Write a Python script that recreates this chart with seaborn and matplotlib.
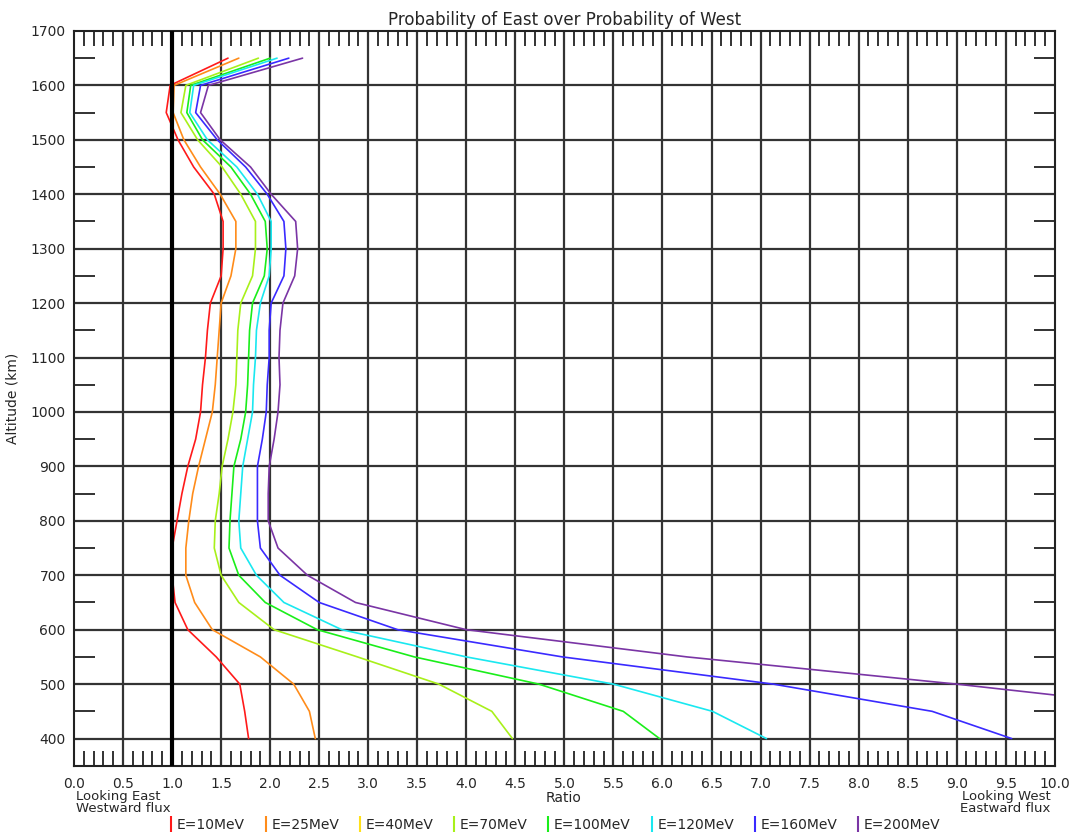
"""
Altitude profile of the East/West probability ratio for several proton energies.
"""
import numpy as np
import pandas as pd
import matplotlib
matplotlib.use('Agg')
import matplotlib.pyplot as plt
from matplotlib.lines import Line2D
from matplotlib.ticker import MultipleLocator, FormatStrFormatter
import seaborn as sns

# Altitude grid (km), shared by every energy curve
altitude = [400, 450, 500, 550, 600, 650, 700, 750, 800, 850, 900, 950, 1000,
            1050, 1100, 1150, 1200, 1250, 1300, 1350, 1400, 1450, 1500, 1550,
            1600, 1650]

# Ratio, one list per energy
ratio_10 = [1.78, 1.74, 1.69, 1.45, 1.16, 1.03, 1.00, 1.00, 1.05, 1.10, 1.16,
            1.24, 1.29, 1.31, 1.34, 1.36, 1.39, 1.50, 1.52, 1.52, 1.43, 1.22,
            1.06, 0.94, 0.98, 1.57]
ratio_25 = [2.46, 2.40, 2.24, 1.90, 1.41, 1.23, 1.14, 1.14, 1.17, 1.21, 1.27,
            1.34, 1.41, 1.44, 1.46, 1.48, 1.50, 1.60, 1.65, 1.65, 1.49, 1.29,
            1.12, 1.01, 1.02, 1.68]
ratio_70 = [4.47, 4.26, 3.72, 2.89, 2.04, 1.68, 1.50, 1.43, 1.44, 1.48, 1.51,
            1.57, 1.62, 1.65, 1.66, 1.67, 1.70, 1.82, 1.85, 1.85, 1.70, 1.51,
            1.26, 1.09, 1.14, 1.88]
ratio_100 = [5.97, 5.60, 4.74, 3.47, 2.48, 1.95, 1.68, 1.58, 1.59, 1.61, 1.63,
             1.70, 1.75, 1.77, 1.78, 1.79, 1.82, 1.94, 1.97, 1.95, 1.80, 1.60,
             1.31, 1.15, 1.19, 2.00]
ratio_120 = [7.06, 6.51, 5.50, 4.00, 2.73, 2.14, 1.86, 1.70, 1.68, 1.70, 1.72,
             1.77, 1.82, 1.83, 1.85, 1.86, 1.90, 1.99, 2.01, 2.01, 1.87, 1.66,
             1.36, 1.18, 1.22, 2.07]
ratio_160 = [9.56, 8.75, 7.13, 4.98, 3.30, 2.50, 2.10, 1.90, 1.87, 1.87, 1.87,
             1.92, 1.96, 1.97, 1.99, 1.99, 2.01, 2.14, 2.16, 2.14, 1.97, 1.75,
             1.46, 1.24, 1.29, 2.19]
ratio_200 = [13.0, 11.5, 9.00, 6.25, 4.00, 2.87, 2.38, 2.08, 1.98, 1.98, 1.99,
             2.04, 2.08, 2.10, 2.09, 2.10, 2.13, 2.25, 2.28, 2.26, 2.01, 1.80,
             1.49, 1.29, 1.37, 2.33]

# Legend entries (the 40 MeV curve has no data in the picture)
energies = ['E=10MeV', 'E=25MeV', 'E=40MeV', 'E=70MeV', 'E=100MeV',
            'E=120MeV', 'E=160MeV', 'E=200MeV']
colors = ['#ff1a1a', '#ff8c1a', '#ffe01a', '#a8f01a', '#1aee1a',
          '#1ae8f0', '#3a2aff', '#7a35a5']

curves = {
    'E=10MeV': ratio_10,
    'E=25MeV': ratio_25,
    'E=70MeV': ratio_70,
    'E=100MeV': ratio_100,
    'E=120MeV': ratio_120,
    'E=160MeV': ratio_160,
    'E=200MeV': ratio_200,
}

# Build long-form table for seaborn
rows = []
for name, vals in curves.items():
    for a, r in zip(altitude, vals):
        rows.append({'energy': name, 'alt': a, 'ratio': r})
df = pd.DataFrame(rows)
palette = dict(zip(energies, colors))

sns.set_style('white')
plt.rcParams['font.family'] = ['DejaVu Sans']

fig = plt.figure(figsize=(10.73, 8.36), dpi=100)
ax = fig.add_axes([0.069, 0.084, 0.914, 0.879])

# Grid and the reference line at ratio = 1
for xv in np.arange(0.5, 10.0, 0.5):
    ax.axvline(xv, color='#333333', lw=1.6, zorder=1)
for yv in range(400, 1700, 100):
    ax.axhline(yv, color='#333333', lw=1.6, zorder=1)
ax.axvline(1.0, color='black', lw=3, zorder=3)

sns.lineplot(data=df, x='ratio', y='alt', hue='energy', palette=palette,
             orient='y', estimator=None, legend=False, lw=1.2, ax=ax, zorder=2)

ax.set_xlim(0, 10)
ax.set_ylim(350, 1700)
ax.xaxis.set_major_locator(MultipleLocator(0.5))
ax.xaxis.set_minor_locator(MultipleLocator(0.1))
ax.xaxis.set_major_formatter(FormatStrFormatter('%.1f'))
ax.set_yticks(range(400, 1701, 100))
ax.yaxis.set_minor_locator(MultipleLocator(50))
ax.tick_params(axis='both', which='both', direction='in', top=True, right=True,
               bottom=True, left=True, color='#222222', labelsize=10)
ax.tick_params(axis='x', which='major', length=0, pad=8)
ax.tick_params(axis='x', which='minor', length=11, width=1.3)
ax.tick_params(axis='y', which='major', length=0, pad=6)
ax.tick_params(axis='y', which='minor', length=15, width=1.3)
for s in ax.spines.values():
    s.set_color('#222222')
    s.set_linewidth(1.5)

ax.set_xlabel('')
ax.set_ylabel('Altitude (km)', fontsize=10, labelpad=8)
ax.set_title('Probability of East over Probability of West', fontsize=12, pad=4)

fig.text(0.525, 0.046, 'Ratio', ha='center', va='center', fontsize=10)
fig.text(0.071, 0.040, 'Looking East\nWestward flux', ha='left', va='center',
         fontsize=9.5, linespacing=0.95)
fig.text(0.979, 0.040, 'Looking West\nEastward flux', ha='right', va='center',
         fontsize=9.5, linespacing=0.95)

handles = [Line2D([], [], color=c, marker='|', markersize=11, mew=1.5, ls='none')
           for c in colors]
fig.legend(handles, energies, loc='center', bbox_to_anchor=(0.516, 0.013),
           ncol=8, frameon=False, fontsize=10, handlelength=0.6,
           handletextpad=0.1, columnspacing=1.2, borderpad=0)

fig.savefig('out.png', dpi=100)
plt.close(fig)
